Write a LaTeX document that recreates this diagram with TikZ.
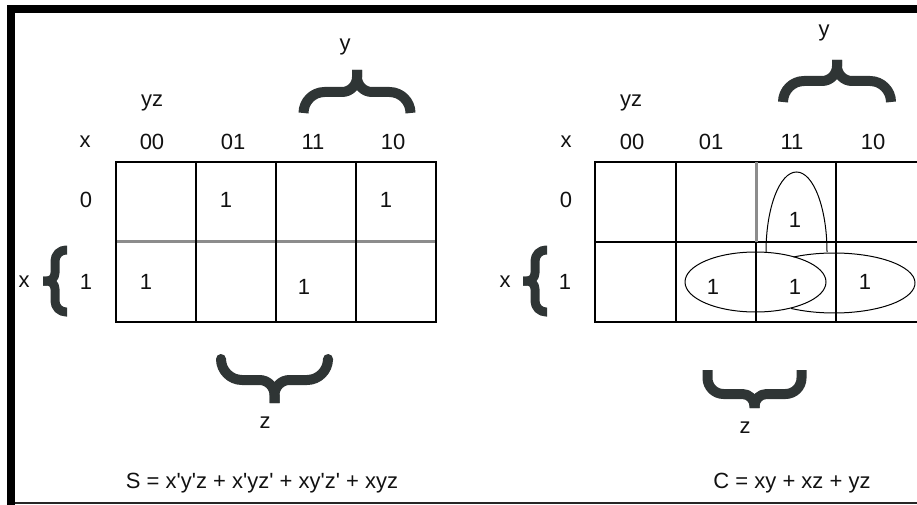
\documentclass[tikz,border=0pt]{standalone}
\usepackage{fontspec}
\setmainfont{Liberation Sans}[Ligatures=TeXOff]
\definecolor{bracecol}{HTML}{2F3535}
\definecolor{txtcol}{HTML}{111111}
\begin{document}
\begin{tikzpicture}[x=1pt,y=-1pt,
  lbl/.style={inner sep=0pt,text=txtcol,font=\fontsize{22}{26}\selectfont},
  gridline/.style={line width=1.6pt,black},
  grayline/.style={line width=3pt,black!45},
  bracepath/.style={line width=#1,bracecol,line cap=butt,line join=round},
  % args: half width, depth of ends, arm depth, corner radius, tip radius, stroke width
  pics/kbr/.style n args={6}{code={
    \draw[bracepath=#6] (-#1,#2) -- (-#1,#3+#4)
      .. controls (-#1,#3+0.45*#4) and (-#1+0.45*#4,#3) .. (-#1+#4,#3)
      -- (-#5,#3) .. controls (-0.45*#5,#3) and (0,#3-0.45*#5) .. (0,#3-#5) -- (0,0);
    \draw[bracepath=#6] (#1,#2) -- (#1,#3+#4)
      .. controls (#1,#3+0.45*#4) and (#1-0.45*#4,#3) .. (#1-#4,#3)
      -- (#5,#3) .. controls (0.45*#5,#3) and (0,#3-0.45*#5) .. (0,#3-#5) -- (0,0);
  }},
  loop/.style={line width=1pt,black}]
\useasboundingbox (0,0) rectangle (917,505);
% frame
\fill[black] (7,5) rectangle (917,13);
\fill[black] (7,5) rectangle (15,505);
\draw[line width=1.5pt,black!85] (15,503) -- (917,503);

% ---------- left map ----------
\draw[grayline] (116,241) -- (436,241);
\draw[gridline] (116,162) rectangle (436,322);
\foreach \c in {196,276,356} \draw[gridline] (\c,162) -- (\c,322);

\node[lbl] (Lyz) at (152,103) {yz};
\node[lbl] (Lx) at (85,142) {x};
\node[lbl] (L00) at (152,142) {00};
\node[lbl] (L01) at (233,142) {01};
\node[lbl] (L11) at (313,142) {11};
\node[lbl] (L10) at (393,142) {10};
\node[lbl] (Lr0) at (86,200) {0};
\node[lbl] (Lr1) at (86,282) {1};
\node[lbl] (Lxs) at (24,282) {x};
\node[lbl] (Ly) at (345,47) {y};
\node[lbl] (Lz) at (265,423) {z};
\node[lbl] (La) at (226,200) {1};
\node[lbl] (Lb) at (386,200) {1};
\node[lbl] (Lc) at (146,282) {1};
\node[lbl] (Ld) at (304,287) {1};
\node[lbl] (LS) at (262,483) {S = x'y'z + x'yz' + xy'z' + xyz};

\pic at (357,70) {kbr={53.5}{43}{22}{21}{15}{10pt}};
\pic[rotate=90] at (43,281) {kbr={31}{24}{12}{11}{8}{9pt}};
\pic[rotate=180] at (274.5,403) {kbr={53.5}{43}{23}{21}{15}{10pt}};

% ---------- right map ----------
\draw[gridline] (917,162) -- (595,162) -- (595,322) -- (917,322);
\draw[gridline] (595,242) -- (917,242);
\draw[gridline] (676,162) -- (676,322);
\draw[grayline] (756,162) -- (756,242);
\draw[gridline] (756,242) -- (756,322);
\draw[gridline] (836,162) -- (836,322);

\node[lbl] (Ryz) at (631,103) {yz};
\node[lbl] (Rx) at (566,142) {x};
\node[lbl] (R00) at (632,142) {00};
\node[lbl] (R01) at (711,142) {01};
\node[lbl] (R11) at (792,142) {11};
\node[lbl] (R10) at (873,142) {10};
\node[lbl] (Rr0) at (566,200) {0};
\node[lbl] (Rr1) at (565,282) {1};
\node[lbl] (Rxs) at (505,282) {x};
\node[lbl] (Ry) at (824,33) {y};
\node[lbl] (Rz) at (745,428) {z};
\node[lbl] (Ra) at (795,220) {1};
\node[lbl] (Rb) at (713,287) {1};
\node[lbl] (Rc) at (795,287) {1};
\node[lbl] (Rd) at (865,282) {1};
\node[lbl] (RC) at (792,483) {C = xy + xz + yz};

\pic at (837,60) {kbr={54}{42}{21}{21}{15}{10pt}};
\pic[rotate=90] at (523,281) {kbr={31}{24}{12}{11}{8}{9pt}};
\pic[rotate=180] at (754.5,408) {kbr={47}{38}{14}{16}{12}{10pt}};

% groupings
\draw[loop] (766,252) arc[start angle=180,end angle=360,x radius=30.5,y radius=80];
\draw[loop] (755.5,282) ellipse[x radius=70.5,y radius=30];
\draw[loop] (834,283) ++(240:81 and 30) arc[start angle=240,end angle=482,x radius=81,y radius=30];
\end{tikzpicture}
\end{document}
